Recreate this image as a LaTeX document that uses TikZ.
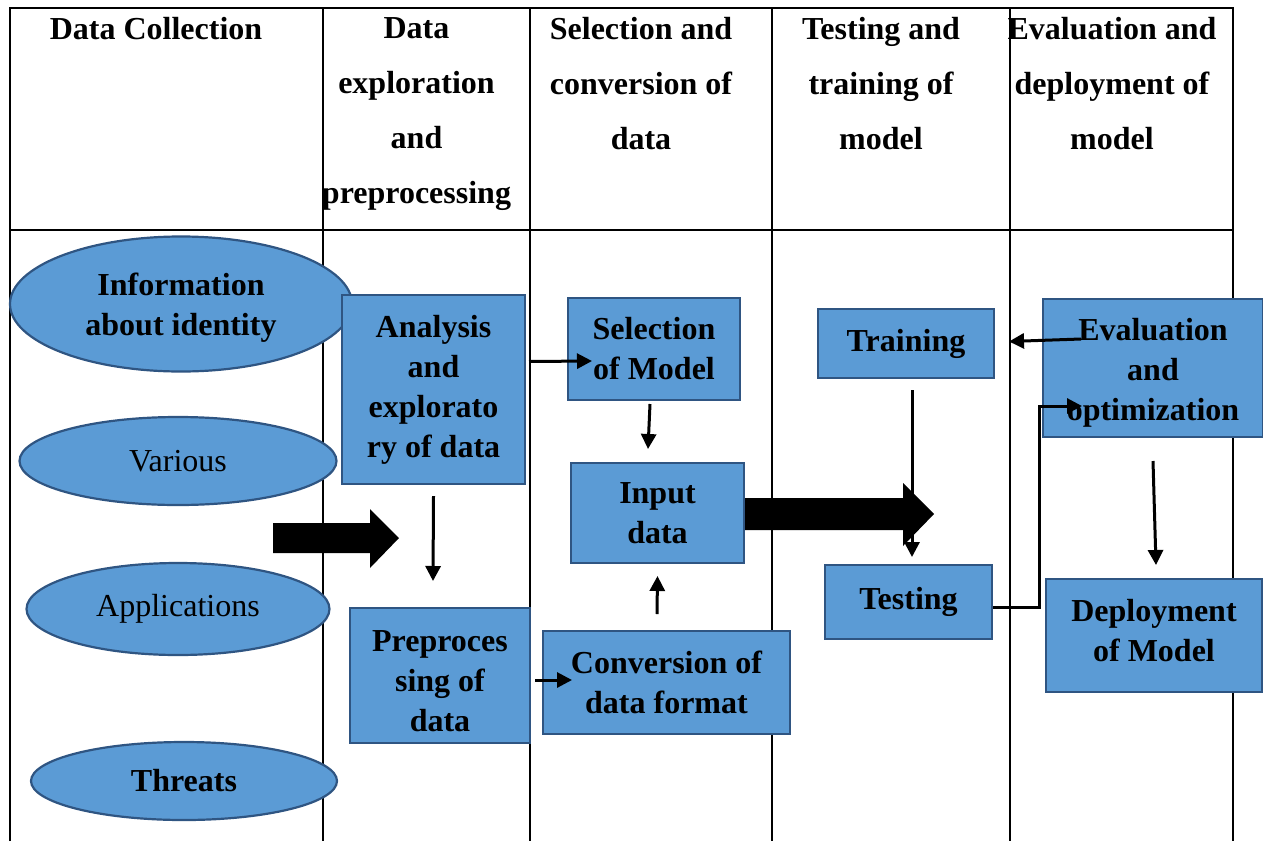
\documentclass[tikz,border=0pt]{standalone}
\usepackage{fontspec}
\setmainfont{Liberation Serif}
\usepackage{tikz}
\usetikzlibrary{shapes.geometric}
\usetikzlibrary{arrows.meta,calc}
\definecolor{boxblue}{RGB}{91,155,213}
\definecolor{boxedge}{RGB}{47,85,130}

\begin{document}
\begin{tikzpicture}[x=1pt,y=-1pt,
  tabline/.style={line width=2pt},
  colhead/.style={anchor=north,inner sep=0pt,align=center,font=\fontsize{32}{55}\selectfont\bfseries},
  box/.style={draw=boxedge,line width=2pt,fill=boxblue,inner sep=0pt,align=center,font=\fontsize{32}{40}\selectfont\bfseries},
  oval/.style={ellipse,draw=boxedge,line width=2.2pt,fill=boxblue,inner sep=0pt,align=center,font=\fontsize{32}{40}\selectfont},
  flow/.style={->,line width=3pt},
  >={Triangle[length=15pt,width=15pt]}]
  \useasboundingbox (0,0) rectangle (1263,841);

  % table
  \draw[tabline] (10,841) -- (10,8) -- (1233,8) -- (1233,841);
  \draw[tabline] (10,230) -- (1233,230);
  \foreach \x in {323,530,772,1010}
    \draw[tabline] (\x,8) -- (\x,841);

  \node[colhead] (h1) at (156,17) {Data Collection};
  \node[colhead] (h2) at (416.5,17) {Data\\exploration\\and\\preprocessing};
  \node[colhead] (h3) at (641,17) {Selection and\\conversion of\\data};
  \node[colhead] (h4) at (881,17) {Testing and\\training of\\model};
  \node[colhead] (h5) at (1112,17) {Evaluation and\\deployment of\\model};

  % sources
  \node[oval,minimum width=342pt,minimum height=135pt,text height=70pt,font=\fontsize{32}{40}\selectfont\bfseries] (info) at (181,304) {Information\\about identity};
  \node[oval,minimum width=317pt,minimum height=88pt] (var) at (178,461) {Various};
  \node[oval,minimum width=303pt,minimum height=92pt] (app) at (178,609) {Applications};
  \node[oval,minimum width=306pt,minimum height=78pt,font=\fontsize{32}{40}\selectfont\bfseries] (thr) at (184,781) {Threats};

  % steps
  \node[box,minimum width=183pt,minimum height=189pt] (ana) at (433.5,389.5) {Analysis\\and\\explorato\\ry of data};
  \node[box,minimum width=180pt,minimum height=135pt,text height=113pt] (pre) at (440,675.5) {Preproces\\sing of\\data};
  \node[box,minimum width=172pt,minimum height=102pt] (sel) at (654,349) {Selection\\of Model};
  \node[box,minimum width=173pt,minimum height=100pt] (inp) at (657.5,513) {Input\\data};
  \node[box,minimum width=247pt,minimum height=103pt] (con) at (666.5,682.5) {Conversion of\\data format};
  \node[box,minimum width=176pt,minimum height=69pt] (trn) at (906,343.5) {Training};
  \node[box,minimum width=167pt,minimum height=74pt] (tst) at (908.5,602) {Testing};
  \node[box,minimum width=220pt,minimum height=138pt,text height=112pt] (eva) at (1153,368) {Evaluation\\and\\optimization};
  \node[box,minimum width=216pt,minimum height=113pt,text depth=10pt] (dep) at (1154,635.5) {Deployment\\of Model};

  % big arrows
  \coordinate (bigL) at (273,538);
  \fill (bigL) ++(0,-15) -- ++(97,0) -- ++(0,-14) -- ++(29,29) -- ++(-29,30) -- ++(0,-15) -- ++(-97,0) -- cycle;
  \fill ($(inp.east)+(0,-15)$) -- ++(158,0) -- ++(0,-15) -- ++(31,31) -- ++(-31,32) -- ++(0,-16) -- ++(-158,0) -- cycle;

  % small arrows
  \path[flow] ($(ana.east)+(3,-28)$) edge ($(sel.west)+(25,12)$);
  \path[flow] ($(ana.south)+(0,11)$) edge ($(pre.north)+(-7,-26)$);
  \path[flow] ($(sel.south)+(-4,3)$) edge ($(inp.north)+(-9.5,-13)$);
  \path[flow] ($(con.north)+(-9.5,-16)$) edge ($(inp.south)+(0,12)$);
  \path[flow] ($(pre.east)+(4,4.5)$) edge ($(con.west)+(30,-2.5)$);
  \path[flow] ($(trn.south)+(6,11)$) edge ($(tst.north)+(3.5,-7)$);
  \path[flow] ($(eva.west)+(39,-29)$) edge ($(trn.east)+(14,-2)$);
  \draw[flow] ($(tst.east)+(0,5)$) -- ++(46,0) |- ($(eva.west)+(40,38)$);
  \path[flow] ($(eva.south)+(0,23)$) edge ($(dep.north)+(2,-13)$);
\end{tikzpicture}
\end{document}
